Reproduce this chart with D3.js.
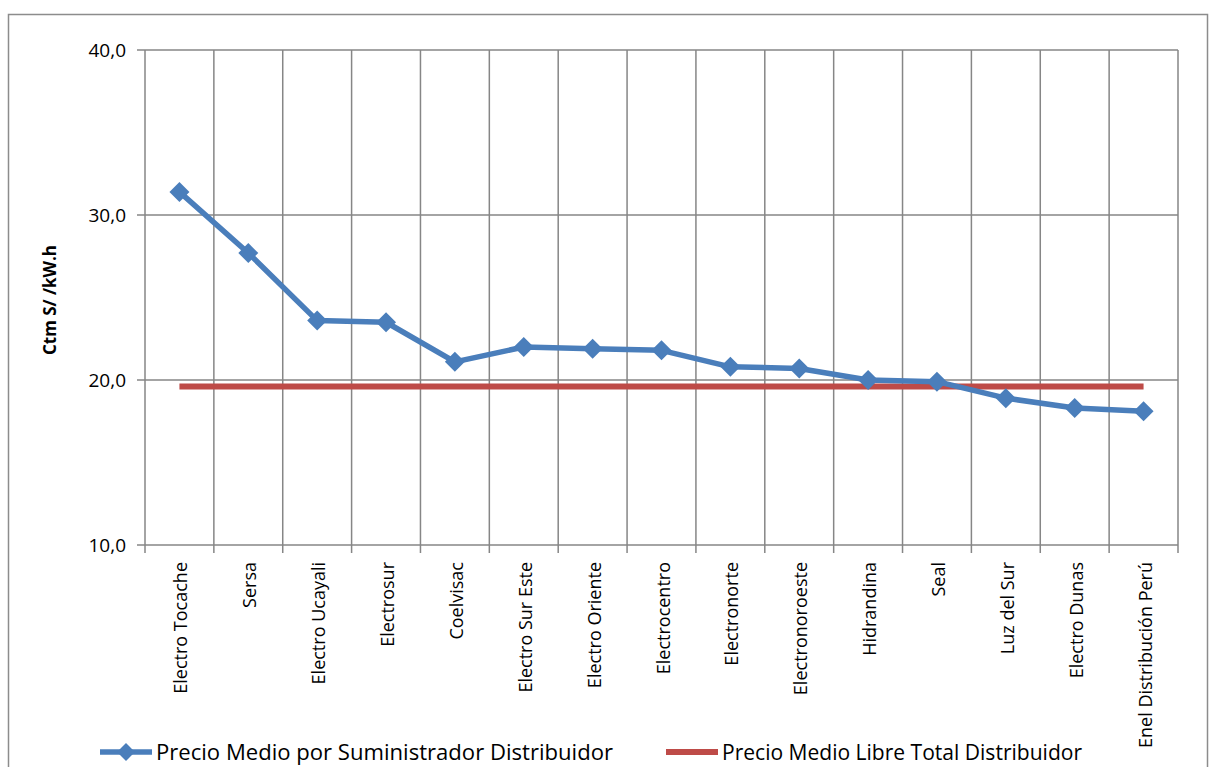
<!DOCTYPE html>
<html><head><meta charset="utf-8">
<script src="https://cdn.jsdelivr.net/npm/d3@7"></script>
<style>body{margin:0;background:#fff;}svg{display:block;}</style>
</head><body>
<svg id="c" width="1211" height="767"></svg>
<script>
const categories = ["Electro Tocache","Sersa","Electro Ucayali","Electrosur","Coelvisac","Electro Sur Este","Electro Oriente","Electrocentro","Electronorte","Electronoroeste","Hidrandina","Seal","Luz del Sur","Electro Dunas","Enel Distribución Perú"];
const precioSuministrador = [31.4,27.7,23.6,23.5,21.1,22.0,21.9,21.8,20.8,20.7,20.0,19.9,18.9,18.3,18.1];
const precioLibreTotal = [19.6,19.6,19.6,19.6,19.6,19.6,19.6,19.6,19.6,19.6,19.6,19.6,19.6,19.6,19.6];
const yTicks = [10,20,30,40];
const seriesNames = ["Precio Medio por Suministrador Distribuidor","Precio Medio Libre Total Distribuidor"];
const yTitle = "Ctm S/ /kW.h";

const svg = d3.select("#c");
const font = "'Open Sans', 'Noto Sans', sans-serif";
const L=145,R=1178,T=50,B=545;
const blue="#4A7EBB", red="#BE4B48", grid="#868686";

svg.append("rect").attr("x",8.5).attr("y",14.5).attr("width",1199).attr("height",780)
  .attr("fill","none").attr("stroke","#8c8c8c").attr("stroke-width",1.5);

const x = d3.scaleBand().domain(categories).range([L,R]).padding(0);
const y = d3.scaleLinear().domain([10,40]).range([B,T]);
const cx = d => x(d)+x.bandwidth()/2;

svg.append("g").selectAll("line").data(yTicks).join("line")
  .attr("x1",L-8).attr("x2",R).attr("y1",d=>y(d)).attr("y2",d=>y(d))
  .attr("stroke",grid).attr("stroke-width",1.5);
const bounds = categories.map(c=>x(c)).concat([R]);
svg.append("g").selectAll("line").data(bounds).join("line")
  .attr("x1",d=>d).attr("x2",d=>d).attr("y1",T).attr("y2",B+8)
  .attr("stroke",grid).attr("stroke-width",1.5);

svg.append("g").selectAll("text").data(yTicks).join("text")
  .attr("x",L-19).attr("y",d=>y(d)).attr("dy","0.36em").attr("text-anchor","end")
  .attr("font-family",font).attr("font-size",19).attr("fill","#000")
  .text(d=>d.toFixed(1).replace(".",","));

svg.append("text").attr("transform","translate(56,300) rotate(-90)")
  .attr("text-anchor","middle").attr("font-family",font).attr("font-size",17.5).attr("font-weight","bold")
  .attr("textLength",110).attr("lengthAdjust","spacingAndGlyphs")
  .text(yTitle);

svg.append("g").selectAll("text").data(categories).join("text")
  .attr("transform",d=>`translate(${cx(d)+8},${B+17}) rotate(-90)`)
  .attr("text-anchor","end").attr("font-family",font).attr("font-size",18).attr("fill","#000")
  .text(d=>d);

const line = d3.line().x((d,i)=>cx(categories[i])).y(d=>y(d));
svg.append("path").datum(precioLibreTotal).attr("d",line).attr("fill","none")
  .attr("stroke",red).attr("stroke-width",6);

svg.append("path").datum(precioSuministrador).attr("d",line).attr("fill","none")
  .attr("stroke",blue).attr("stroke-width",5.5).attr("stroke-linejoin","round");
svg.append("g").selectAll("path").data(precioSuministrador).join("path")
  .attr("transform",(d,i)=>`translate(${cx(categories[i])},${y(d)}) rotate(45)`)
  .attr("d",d3.symbol().type(d3.symbolSquare).size(200)).attr("fill",blue);

const ly=752;
svg.append("line").attr("x1",100).attr("x2",152).attr("y1",ly).attr("y2",ly).attr("stroke",blue).attr("stroke-width",5.5);
svg.append("path").attr("transform",`translate(126,${ly}) rotate(45)`).attr("d",d3.symbol().type(d3.symbolSquare).size(160)).attr("fill",blue);
svg.append("text").attr("x",156).attr("y",ly).attr("dy","0.36em").attr("font-family",font).attr("font-size",21)
  .attr("textLength",457).attr("lengthAdjust","spacingAndGlyphs").text(seriesNames[0]);
svg.append("line").attr("x1",666).attr("x2",718).attr("y1",ly).attr("y2",ly).attr("stroke",red).attr("stroke-width",6);
svg.append("text").attr("x",722).attr("y",ly).attr("dy","0.36em").attr("font-family",font).attr("font-size",21)
  .attr("textLength",360).attr("lengthAdjust","spacingAndGlyphs").text(seriesNames[1]);
</script>
</body></html>
